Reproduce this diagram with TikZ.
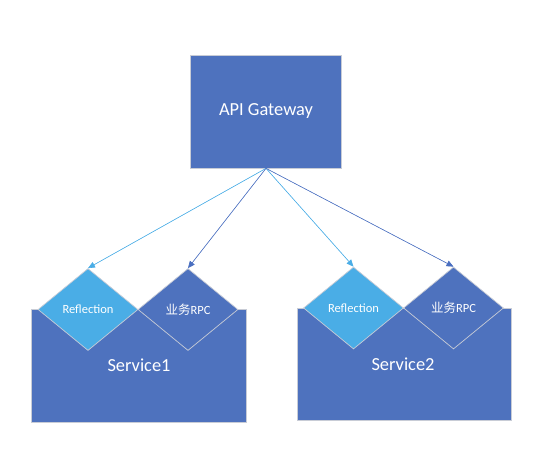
\documentclass[tikz,border=0pt]{standalone}
\usepackage{fontspec}
\setmainfont{Carlito}
\newfontfamily\cjk{Noto Sans CJK SC}
\usetikzlibrary{shapes.geometric,arrows.meta}
\definecolor{darkblu}{HTML}{4E72BE}
\definecolor{lightblu}{HTML}{4AADE6}
\definecolor{edgegray}{HTML}{C8CCD6}
\definecolor{lineDark}{HTML}{4A6FC0}
\definecolor{lineLight}{HTML}{4AADE6}
\tikzset{
  box/.style={draw=edgegray, line width=0.7pt, fill=darkblu, text=white, inner sep=0pt},
  dia/.style={diamond, draw=edgegray, line width=0.7pt, text=white, inner sep=0pt, aspect=1.2,
              minimum width=100pt, minimum height=82pt, font=\fontsize{12.5}{14}\selectfont},
  refl/.style={dia, fill=lightblu},
  rpc/.style={dia, fill=darkblu},
  conn/.style={line width=0.6pt, -{Triangle[length=7pt,width=6pt]}},
  lconn/.style={conn, draw=lineLight, fill=lineLight},
  dconn/.style={conn, draw=lineDark, fill=lineDark},
  big/.style={font=\fontsize{18.4}{20}\selectfont, text=white}
}
\begin{document}
\begin{tikzpicture}[x=1pt,y=-1pt]
\useasboundingbox (0,0) rectangle (542,466);
\node[box, minimum width=151pt, minimum height=113pt, big] (gw) at (266,111.5) {API Gateway};
\node[box, minimum width=215pt, minimum height=113pt] (s1) at (138.5,365.5) {};
\node[box, minimum width=214pt, minimum height=112pt] (s2) at (404,364) {};
\node[refl] (r1) at (88,309.5) {Reflection};
\node[rpc] (p1) at (188,309.5) {{\cjk 业务}RPC};
\node[refl] (r2) at (353.5,308) {Reflection};
\node[rpc] (p2) at (453.5,308) {{\cjk 业务}RPC};
\node[big] (t1) at (139,365) {Service1};
\node[big] (t2) at (403,364) {Service2};
\draw[lconn] (gw.south) -- (r1.north);
\draw[dconn] (gw.south) -- (p1.north);
\draw[lconn] (gw.south) -- (r2.north);
\draw[dconn] (gw.south) -- (p2.north);
\end{tikzpicture}
\end{document}
